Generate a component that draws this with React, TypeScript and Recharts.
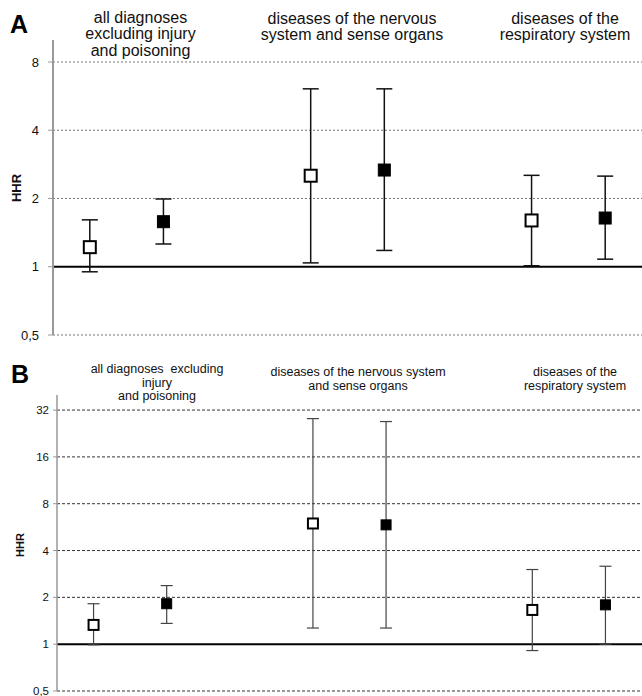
import { ScatterChart, Scatter, XAxis, YAxis, ErrorBar, ReferenceLine } from "recharts";

// x positions of the two markers in each group
const openX = [0.5, 3.5, 6.5];
const filledX = [1.5, 4.5, 7.5];

const labelsA = [
  ["all diagnoses", "excluding injury", "and poisoning"],
  ["diseases of the nervous", "system and sense organs"],
  ["diseases of the", "respiratory system"],
];
const labelsB = [
  ["all diagnoses  excluding", "injury", "and poisoning"],
  ["diseases of the nervous system", "and sense organs"],
  ["diseases of the", "respiratory system"],
];

// panel A
const openA = [1.22, 2.52, 1.6];
const openLoA = [0.95, 1.04, 1.01];
const openHiA = [1.61, 6.09, 2.53];
const filledA = [1.58, 2.67, 1.64];
const filledLoA = [1.26, 1.18, 1.08];
const filledHiA = [1.99, 6.09, 2.51];

// panel B
const openB = [1.33, 5.97, 1.66];
const openLoB = [0.99, 1.27, 0.91];
const openHiB = [1.82, 28.2, 3.02];
const filledB = [1.82, 5.85, 1.79];
const filledLoB = [1.36, 1.27, 1.0];
const filledHiB = [2.38, 27.0, 3.17];

const ticksA = [0.5, 1, 2, 4, 8];
const ticksB = [0.5, 1, 2, 4, 8, 16, 32];

const FONT = "'Liberation Sans', Arial, sans-serif";

const rows = (xs: number[], v: number[], lo: number[], hi: number[]) =>
  xs.map((x, i) => ({ x, y: v[i], err: [v[i] - lo[i], hi[i] - v[i]] }));

const fmt = (v: number) => (Math.abs(v - 0.5) < 1e-9 ? "0,5" : String(v));

const square = (size: number, fill: string, sw: number) => (p: any) => (
  <rect
    x={p.cx - size / 2}
    y={p.cy - size / 2}
    width={size}
    height={size}
    fill={fill}
    stroke="#000"
    strokeWidth={sw}
  />
);

function Labels({ lines, centers, tops, size, lh }: any) {
  return (
    <>
      {lines.map((l: string[], i: number) => (
        <div
          key={i}
          style={{
            position: "absolute",
            left: centers[i] - 110,
            top: tops[i],
            width: 220,
            textAlign: "center",
            fontFamily: FONT,
            fontSize: size,
            lineHeight: `${lh}px`,
            color: "#111",
            whiteSpace: "pre",
          }}
        >
          {l.map((t, j) => (
            <div key={j}>{t}</div>
          ))}
        </div>
      ))}
    </>
  );
}

function Side({ text, left, top, size }: any) {
  return (
    <div
      style={{
        position: "absolute",
        left,
        top,
        transform: "translate(-50%, -50%) rotate(-90deg)",
        fontFamily: FONT,
        fontWeight: "bold",
        fontSize: size,
        color: "#111",
        whiteSpace: "nowrap",
      }}
    >
      {text}
    </div>
  );
}

function Letter({ text, left, top }: any) {
  return (
    <div
      style={{
        position: "absolute",
        left,
        top,
        fontFamily: FONT,
        fontWeight: "bold",
        fontSize: 25,
        lineHeight: "25px",
        color: "#000",
      }}
    >
      {text}
    </div>
  );
}

export default function App() {
  const dOpenA = rows(openX, openA, openLoA, openHiA);
  const dFilledA = rows(filledX, filledA, filledLoA, filledHiA);
  const dOpenB = rows(openX, openB, openLoB, openHiB);
  const dFilledB = rows(filledX, filledB, filledLoB, filledHiB);

  return (
    <div style={{ position: "absolute", left: 0, top: 0, width: 642, height: 696, background: "#fff", overflow: "hidden" }}>
      <div style={{ position: "absolute", left: 0, top: 0 }}>
        <ScatterChart width={642} height={348} margin={{ top: 40, right: 0, bottom: 13, left: 0 }}>
          <XAxis type="number" dataKey="x" domain={[0, 8]} hide />
          <YAxis
            type="number"
            dataKey="y"
            scale="log"
            domain={[0.5, 10]}
            allowDataOverflow
            ticks={ticksA}
            interval={0}
            tickFormatter={fmt}
            width={53}
            axisLine={{ stroke: "#999", strokeWidth: 2 }}
            tickLine={{ stroke: "#999" }}
            tickSize={5}
            tickMargin={9}
            tick={{ fill: "#111", fontSize: 13, fontFamily: FONT }}
          />
          {ticksA.map((t) =>
            t === 1 ? null : <ReferenceLine key={t} y={t} stroke="#777" strokeDasharray="2 2" />
          )}
          <ReferenceLine y={1} stroke="#000" strokeWidth={2} />
          <Scatter data={dOpenA} shape={square(12, "#fff", 2)} isAnimationActive={false}>
            <ErrorBar dataKey="err" direction="y" width={8} stroke="#111" strokeWidth={1.5} />
          </Scatter>
          <Scatter data={dFilledA} shape={square(12, "#000", 1)} isAnimationActive={false}>
            <ErrorBar dataKey="err" direction="y" width={8} stroke="#111" strokeWidth={1.5} />
          </Scatter>
        </ScatterChart>
      </div>
      <div style={{ position: "absolute", left: 0, top: 350 }}>
        <ScatterChart width={642} height={346} margin={{ top: 45, right: 0, bottom: 5, left: 0 }}>
          <XAxis type="number" dataKey="x" domain={[0, 8]} hide />
          <YAxis
            type="number"
            dataKey="y"
            scale="log"
            domain={[0.5, 40]}
            allowDataOverflow
            ticks={ticksB}
            interval={0}
            tickFormatter={fmt}
            width={57}
            axisLine={{ stroke: "#999", strokeWidth: 1.5 }}
            tickLine={{ stroke: "#999" }}
            tickSize={4}
            tickMargin={4}
            tick={{ fill: "#111", fontSize: 11.5, fontFamily: FONT }}
          />
          {ticksB.map((t) =>
            t === 1 ? null : <ReferenceLine key={t} y={t} stroke="#333" strokeDasharray="3 2" />
          )}
          <ReferenceLine y={1} stroke="#000" strokeWidth={2} />
          <Scatter data={dOpenB} shape={square(10, "#fff", 2)} isAnimationActive={false}>
            <ErrorBar dataKey="err" direction="y" width={6} stroke="#444" strokeWidth={1.2} />
          </Scatter>
          <Scatter data={dFilledB} shape={square(10, "#000", 1)} isAnimationActive={false}>
            <ErrorBar dataKey="err" direction="y" width={6} stroke="#444" strokeWidth={1.2} />
          </Scatter>
        </ScatterChart>
      </div>

      <Letter text="A" left={10} top={12} />
      <Letter text="B" left={11} top={362} />
      <Side text="HHR" left={16} top={188} size={13} />
      <Side text="HHR" left={20} top={545} size={11} />

      <Labels lines={labelsA} centers={[140.5, 352, 565]} tops={[9.75, 10.75, 10.75]} size={16} lh={16.5} />
      <Labels lines={labelsB} centers={[157, 358, 575]} tops={[363.25, 366.25, 366.25]} size={12.5} lh={13.5} />
    </div>
  );
}
